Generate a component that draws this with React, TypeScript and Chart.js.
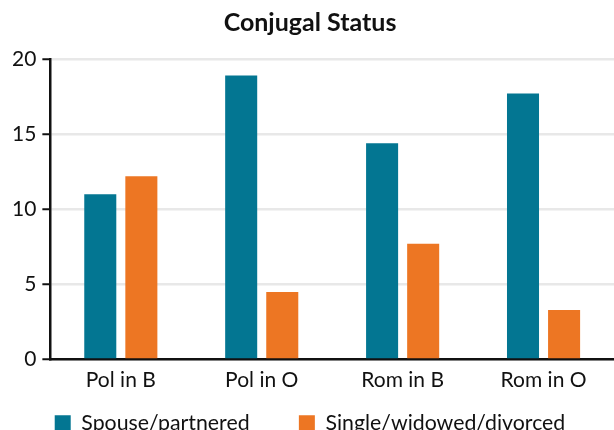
import React, { useEffect, useRef } from "react";
import { Chart, registerables } from "chart.js";

Chart.register(...registerables);

const categories = ["Pol in B", "Pol in O", "Rom in B", "Rom in O"];
const spouseValues = [11.0, 18.9, 14.4, 17.7];
const singleValues = [12.2, 4.5, 7.7, 3.3];
const seriesLabels = ["Spouse/partnered", "Single/widowed/divorced"];
const yTicks = [0, 5, 10, 15, 20];

const FONT = "Lato, 'Open Sans', sans-serif";
const W = 614;
const H = 444;

export default function App() {
  const ref = useRef<HTMLCanvasElement | null>(null);

  useEffect(() => {
    if (!ref.current) return;
    const chart = new Chart(ref.current, {
      type: "bar",
      data: {
        labels: categories,
        datasets: [
          {
            label: seriesLabels[0],
            data: spouseValues,
            backgroundColor: "#037692",
            categoryPercentage: 0.583,
            barPercentage: 0.78,
          },
          {
            label: seriesLabels[1],
            data: singleValues,
            backgroundColor: "#ED7623",
            categoryPercentage: 0.583,
            barPercentage: 0.78,
          },
        ],
      },
      options: {
        responsive: false,
        animation: false,
        layout: { padding: { left: 6, right: 0, top: 0, bottom: 0 } },
        plugins: {
          title: {
            display: true,
            text: "Conjugal Status",
            color: "#111",
            font: { family: FONT, size: 25, weight: "bold" },
            padding: { top: 8, bottom: 21 },
          },
          legend: {
            position: "bottom",
            labels: {
              color: "#111",
              font: { family: FONT, size: 21.3 },
              boxWidth: 16,
              boxHeight: 16,
              padding: 12,
              generateLabels: (c: any) => {
                const items = Chart.defaults.plugins.legend.labels.generateLabels(c);
                return items.map((it: any, i: number) => ({
                  ...it,
                  text: i === 0 ? it.text + "\u2002\u2002\u2002\u2005" : it.text,
                  lineWidth: 0,
                }));
              },
            },
          },
          tooltip: { enabled: false },
        },
        scales: {
          x: {
            grid: { display: true, drawOnChartArea: false, drawTicks: false },
            border: { display: true, color: "#111", width: 2.5 },
            ticks: {
              color: "#111",
              font: { family: FONT, size: 21 },
              padding: 8,
            },
          },
          y: {
            min: 0,
            max: 20,
            afterBuildTicks: (axis: any) => {
              axis.ticks = yTicks.map((v) => ({ value: v }));
            },
            grid: {
              color: "#e8e8e8",
              lineWidth: 2.5,
              tickColor: "#111",
              tickLength: 8,
              tickWidth: 2,
            },
            border: { display: true, color: "#111", width: 2.5 },
            ticks: {
              color: "#111",
              font: { family: FONT, size: 21 },
              padding: 6,
            },
          },
        },
      },
    });
    return () => chart.destroy();
  }, []);

  return (
    <div style={{ position: "absolute", left: 0, top: 0, width: W, height: H }}>
      <canvas ref={ref} width={W} height={H} style={{ width: W, height: H }} />
    </div>
  );
}
